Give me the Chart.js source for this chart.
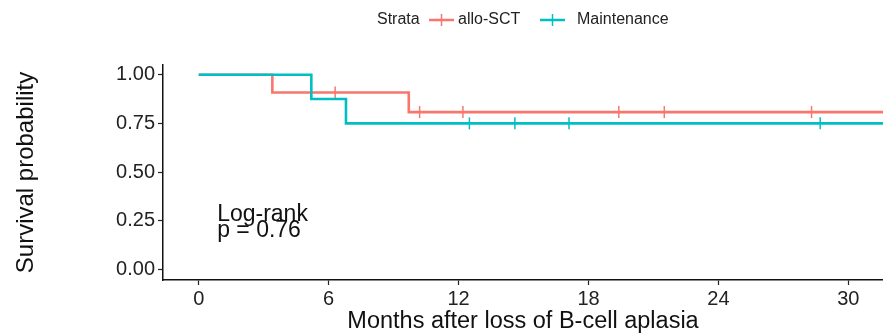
<!DOCTYPE html>
<html>
<head>
<meta charset="utf-8">
<script src="https://cdn.jsdelivr.net/npm/chart.js@4"></script>
<style>
  html, body { margin: 0; padding: 0; background: #fff; }
  #wrap { width: 883px; height: 336px; }
</style>
</head>
<body>
<div id="wrap"><canvas id="km" width="883" height="336"></canvas></div>
<script>
// survival curves (step points) and censor times
const alloTimes = [0, 3.4, 9.7, 31.6];
const alloSurv = [1, 0.909, 0.808, 0.808];
const alloCensor = [6.3, 10.2, 12.2, 19.4, 21.5, 28.3];

const maintTimes = [0, 5.2, 6.8, 31.6];
const maintSurv = [1, 0.875, 0.75, 0.75];
const maintCensor = [12.5, 14.6, 17.1, 28.7];

const xTicks = [0, 6, 12, 18, 24, 30];
const yTicks = [0, 0.25, 0.5, 0.75, 1];

const RED = '#F8766D';
const TEAL = '#00BFC4';
const FONT = '"Liberation Sans", Arial, sans-serif';

function survAt(times, surv, t) {
  let s = surv[0];
  times.forEach((tt, i) => { if (tt <= t) s = surv[i]; });
  return s;
}

function curve(times, surv) {
  return times.map((t, i) => ({ x: t, y: surv[i] }));
}

function censors(times, surv, ct) {
  return ct.map(t => ({ x: t, y: survAt(times, surv, t) }));
}

// legend drawn by hand: "Strata" + line-with-tick symbols
const legendPlugin = {
  id: 'kmLegend',
  afterDraw(chart) {
    const ctx = chart.ctx;
    const y = 20;
    ctx.save();
    ctx.font = '16px ' + FONT;
    ctx.fillStyle = '#222';
    ctx.textBaseline = 'middle';
    ctx.textAlign = 'left';
    ctx.fillText('Strata', 377, y);
    const items = [
      { color: RED, label: 'allo-SCT', sx: 429, tx: 458 },
      { color: TEAL, label: 'Maintenance', sx: 540, tx: 577 }
    ];
    items.forEach(it => {
      ctx.strokeStyle = it.color;
      ctx.lineWidth = 2.5;
      ctx.beginPath();
      ctx.moveTo(it.sx, y);
      ctx.lineTo(it.sx + 25, y);
      ctx.stroke();
      ctx.lineWidth = 1.5;
      ctx.beginPath();
      ctx.moveTo(it.sx + 12.5, y - 6);
      ctx.lineTo(it.sx + 12.5, y + 6);
      ctx.stroke();
      ctx.fillStyle = '#222';
      ctx.fillText(it.label, it.tx, y);
    });
    ctx.restore();
  }
};

// log-rank annotation inside the plot
const pvalPlugin = {
  id: 'pval',
  afterDatasetsDraw(chart) {
    const ctx = chart.ctx;
    const x = chart.scales.x.getPixelForValue(0.85);
    const y = chart.scales.y.getPixelForValue(0.25);
    ctx.save();
    ctx.font = '23px ' + FONT;
    ctx.fillStyle = '#111';
    ctx.textBaseline = 'alphabetic';
    ctx.fillText('Log-rank', x, y);
    ctx.fillText('p = 0.76', x, y + 16.5);
    ctx.restore();
  }
};

new Chart(document.getElementById('km'), {
  type: 'line',
  data: {
    datasets: [
      {
        label: 'Maintenance',
        data: curve(maintTimes, maintSurv),
        borderColor: TEAL,
        borderWidth: 2.6,
        stepped: 'before',
        pointRadius: 0,
        fill: false
      },
      {
        label: 'allo-SCT',
        data: curve(alloTimes, alloSurv),
        borderColor: RED,
        borderWidth: 2.6,
        stepped: 'before',
        pointRadius: 0,
        fill: false
      },
      {
        label: 'Maintenance censored',
        type: 'scatter',
        data: censors(maintTimes, maintSurv, maintCensor),
        pointStyle: 'line',
        rotation: 90,
        pointRadius: 6,
        borderColor: TEAL,
        borderWidth: 1.5,
        showLine: false
      },
      {
        label: 'allo-SCT censored',
        type: 'scatter',
        data: censors(alloTimes, alloSurv, alloCensor),
        pointStyle: 'line',
        rotation: 90,
        pointRadius: 6,
        borderColor: RED,
        borderWidth: 1.5,
        showLine: false
      }
    ]
  },
  options: {
    responsive: false,
    animation: false,
    layout: { autoPadding: false, padding: { top: 65, right: 0, left: 0, bottom: 0 } },
    plugins: {
      legend: { display: false },
      tooltip: { enabled: false }
    },
    scales: {
      x: {
        type: 'linear',
        min: -1.65,
        max: 31.6,
        afterBuildTicks: s => { s.ticks = xTicks.map(v => ({ value: v })); },
        afterFit: s => { s.height = 56; },
        grid: { drawOnChartArea: false, drawTicks: true, tickLength: 5, tickColor: '#222', tickWidth: 1.2 },
        border: { display: true, color: '#111', width: 1.5 },
        ticks: { color: '#222', font: { family: FONT, size: 20 }, padding: 2, maxRotation: 0 },
        title: { display: true, text: 'Months after loss of B-cell aplasia', color: '#111', font: { family: FONT, size: 23.5 }, padding: { top: 0, bottom: 0 } }
      },
      y: {
        min: -0.055,
        max: 1.05,
        afterBuildTicks: s => { s.ticks = yTicks.map(v => ({ value: v })); },
        afterFit: s => { s.width = 163; },
        grid: { drawOnChartArea: false, drawTicks: true, tickLength: 5, tickColor: '#222', tickWidth: 1.2 },
        border: { display: true, color: '#111', width: 1.5 },
        ticks: { color: '#222', font: { family: FONT, size: 20 }, padding: 3, callback: v => v.toFixed(2) },
        title: { display: true, text: 'Survival probability', color: '#111', font: { family: FONT, size: 24 }, padding: { top: 12, bottom: 0 } }
      }
    }
  },
  plugins: [legendPlugin, pvalPlugin]
});
</script>
</body>
</html>
